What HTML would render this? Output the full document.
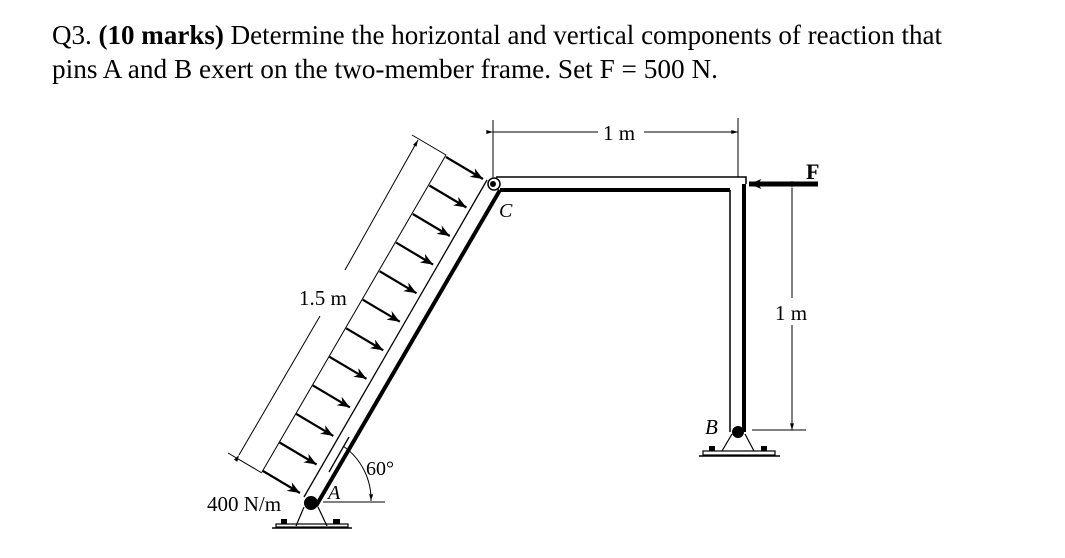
<!DOCTYPE html>
<html><head><meta charset="utf-8"><style>
html,body{margin:0;padding:0;background:#fff;width:1065px;height:558px;overflow:hidden}
svg{display:block}
text{font-family:"Liberation Serif",serif;fill:#000}
</style></head><body>
<svg width="1065" height="558" viewBox="0 0 1065 558" xmlns="http://www.w3.org/2000/svg">
<defs>
<marker id="big" viewBox="0 0 10 8" refX="10" refY="4" markerWidth="14" markerHeight="10" orient="auto" markerUnits="userSpaceOnUse"><path d="M0,0 L10,4 L0,8 L3,4 z" fill="#000"/></marker>
<marker id="sm" viewBox="0 0 10 6" refX="10" refY="3" markerWidth="7" markerHeight="4" orient="auto" markerUnits="userSpaceOnUse"><path d="M0,0 L10,3 L0,6 z" fill="#000"/></marker>
</defs>

<text x="52" y="44" font-size="27" textLength="890" lengthAdjust="spacingAndGlyphs">Q3. <tspan font-weight="bold">(10 marks)</tspan> Determine the horizontal and vertical components of reaction that</text>
<text x="52" y="78" font-size="27" textLength="666" lengthAdjust="spacingAndGlyphs">pins A and B exert on the two-member frame. Set F = 500 N.</text>

<g stroke="#000" stroke-width="1" fill="none">
<line x1="493" y1="120" x2="493" y2="177"/>
<line x1="738" y1="118" x2="738" y2="177"/>
<line x1="493" y1="132" x2="598" y2="132" marker-start="url(#sm)"/>
<line x1="644" y1="132" x2="738" y2="132" marker-end="url(#sm)"/>
<line x1="792" y1="188" x2="792" y2="298" marker-start="url(#sm)"/>
<line x1="792" y1="325" x2="792" y2="430" marker-end="url(#sm)"/>
<line x1="752" y1="430" x2="806" y2="430"/>
</g>
<text x="603" y="140" font-size="21">1 m</text>
<text x="775" y="320" font-size="21">1 m</text>

<g stroke="#000" fill="none">
<polyline points="496,177 746,177 746,184" stroke-width="1.5"/>
<line x1="500" y1="190" x2="730" y2="190" stroke-width="4"/>
<line x1="730" y1="190" x2="730" y2="432" stroke-width="1.5"/>
<line x1="744" y1="184" x2="744" y2="432" stroke-width="4"/>
</g>
<line x1="818" y1="184" x2="749" y2="184" stroke="#000" stroke-width="5" marker-end="url(#big)"/>
<text x="806" y="179" font-size="22" font-weight="bold">F</text>

<g stroke="#000" fill="none" stroke-width="1.2">
<line x1="732" y1="434" x2="722" y2="451"/>
<line x1="745" y1="434" x2="754" y2="451"/>
<rect x="703" y="451" width="72" height="4"/>
<line x1="699" y1="456" x2="780" y2="456" stroke-width="1.5"/>
</g>
<rect x="709" y="446" width="6" height="5" fill="#000"/>
<rect x="761" y="446" width="6" height="5" fill="#000"/>
<circle cx="738" cy="432" r="6" fill="#000"/>
<text x="705" y="434" font-size="21" font-style="italic">B</text>

<g stroke="#000" fill="none">
<line x1="304" y1="497" x2="487" y2="180" stroke-width="1.3"/>
<line x1="316" y1="506" x2="500" y2="190" stroke-width="4"/>
<line x1="329" y1="472" x2="349" y2="437" stroke-width="1.3"/>
</g>
<circle cx="494" cy="184" r="6" fill="#fff" stroke="#000" stroke-width="1.5"/>
<circle cx="493" cy="184" r="3" fill="#000"/>
<text x="499" y="217" font-size="20" font-style="italic">C</text>

<g stroke="#000" stroke-width="1">
<line x1="446" y1="155" x2="262" y2="472"/>
<line x1="446" y1="155" x2="412" y2="135"/>
</g>
<g stroke="#000" stroke-width="2.2" marker-end="url(#big)">
<line x1="263" y1="471" x2="300" y2="493"/>
<line x1="279.6" y1="442.5" x2="316.6" y2="464.5"/>
<line x1="296.3" y1="413.9" x2="333.3" y2="435.9"/>
<line x1="312.9" y1="385.4" x2="349.9" y2="407.4"/>
<line x1="329.5" y1="356.8" x2="366.5" y2="378.8"/>
<line x1="346.2" y1="328.3" x2="383.2" y2="350.3"/>
<line x1="362.8" y1="299.7" x2="399.8" y2="321.7"/>
<line x1="379.5" y1="271.2" x2="416.5" y2="293.2"/>
<line x1="396.1" y1="242.6" x2="433.1" y2="264.6"/>
<line x1="412.8" y1="214" x2="449.8" y2="236"/>
<line x1="429.4" y1="185.5" x2="466.4" y2="207.5"/>
<line x1="446" y1="157" x2="483" y2="179"/>
</g>

<g stroke="#000" stroke-width="1" fill="none">
<line x1="228" y1="453" x2="262" y2="473"/>
<line x1="239" y1="455" x2="320" y2="316" marker-start="url(#sm)"/>
<line x1="345" y1="270" x2="418" y2="140" marker-end="url(#sm)"/>
</g>
<text x="299" y="305" font-size="21">1.5 m</text>

<g stroke="#000" stroke-width="1" fill="none">
<line x1="323" y1="502" x2="385" y2="502"/>
<path d="M343,446 A65,65 0 0 1 371,501" marker-end="url(#sm)"/>
</g>
<text x="366" y="475" font-size="20">60°</text>
<text x="328" y="499" font-size="20" font-style="italic">A</text>
<text x="207" y="511" font-size="21">400 N/m</text>

<g stroke="#000" fill="none" stroke-width="1.2">
<line x1="304" y1="507" x2="296" y2="526"/>
<line x1="318" y1="507" x2="327" y2="526"/>
<rect x="276" y="524" width="72" height="3"/>
<line x1="272" y1="528" x2="352" y2="528" stroke-width="1.5"/>
</g>
<rect x="281" y="519" width="6" height="5" fill="#000"/>
<rect x="333" y="519" width="7" height="5" fill="#000"/>
<circle cx="311" cy="503" r="7" fill="#000"/>
</svg>
</body></html>
